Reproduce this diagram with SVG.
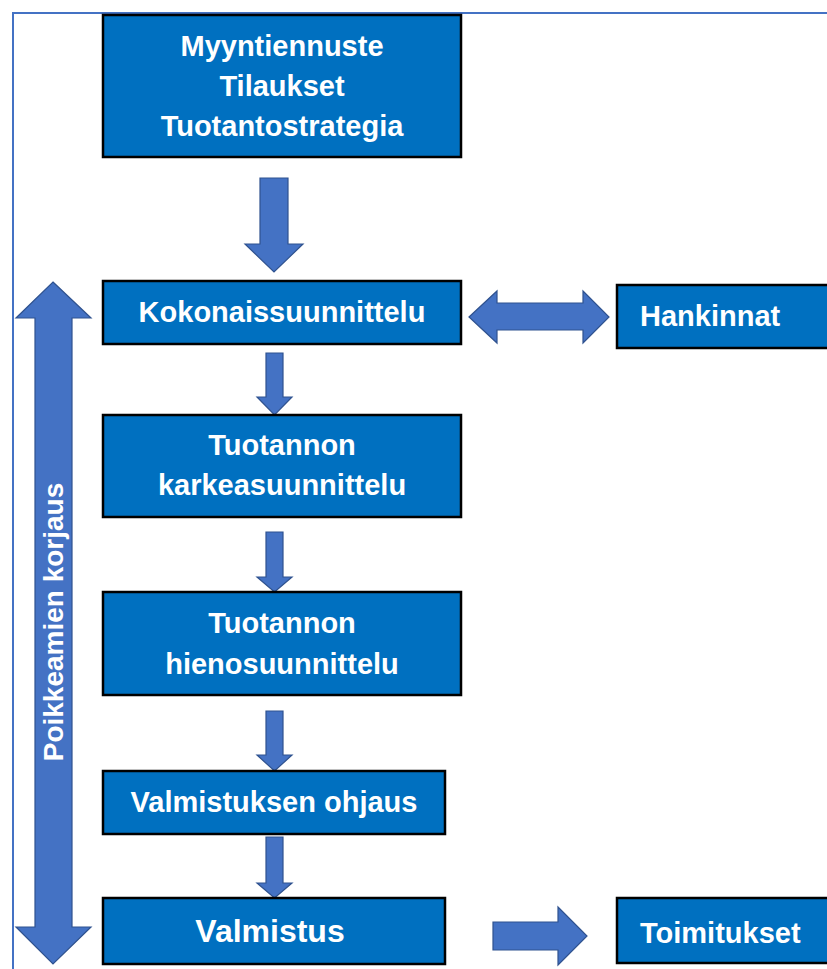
<svg xmlns="http://www.w3.org/2000/svg" width="827" height="969" viewBox="0 0 827 969">
<style>
.box{fill:#0070C0;stroke:#000;stroke-width:2.5}
.arr{fill:#4472C4;stroke:#2F528F;stroke-width:1.2;stroke-linejoin:miter}
.t{font-family:"Liberation Sans",Arial,sans-serif;font-weight:bold;font-size:29px;fill:#fff}
.c{text-anchor:middle}
.frame{fill:none;stroke:#4472C4;stroke-width:2}
</style>
<rect width="827" height="969" fill="#fff"/>
<path class="frame" d="M13,969 V13 H827"/>
<g id="connectors">
<polygon class="arr" points="260,178 288,178 288,244 303,244 274,272 245,244 260,244"/>
<polygon class="arr" points="266,353 283,353 283,397 292,397 274.5,415 257,397 266,397"/>
<polygon class="arr" points="266,532 283,532 283,577 292,577 274.5,592 257,577 266,577"/>
<polygon class="arr" points="266,711 283,711 283,755 292,755 274.5,771 257,755 266,755"/>
<polygon class="arr" points="266,837 283,837 283,883 292,883 274.5,898 257,883 266,883"/>
<polygon class="arr" points="469,317 497,291 497,303 583,303 583,291 609,317 583,343 583,330 497,330 497,343"/>
<polygon class="arr" points="493,922 558,922 558,907 587,936 558,965 558,950 493,950"/>
<g id="poikkeamien">
<polygon class="arr" points="53,282 91,318 72,318 72,927 91,927 53,964 16,927 35,927 35,318 16,318"/>
<text class="t c" transform="translate(63,622) rotate(-90)" style="font-size:28px">Poikkeamien korjaus</text>
</g>
</g>
<g id="n1">
<rect class="box" x="103" y="15" width="358" height="142"/>
<text class="t c" x="282" y="56">Myyntiennuste</text>
<text class="t c" x="282" y="96">Tilaukset</text>
<text class="t c" x="282" y="136">Tuotantostrategia</text>
</g>
<g id="n2">
<rect class="box" x="103" y="281" width="358" height="63"/>
<text class="t c" x="282" y="322">Kokonaissuunnittelu</text>
</g>
<g id="n3">
<rect class="box" x="617" y="285" width="215" height="63"/>
<text class="t" x="640" y="326">Hankinnat</text>
</g>
<g id="n4">
<rect class="box" x="103" y="415" width="358" height="102"/>
<text class="t c" x="282" y="455">Tuotannon</text>
<text class="t c" x="282" y="495">karkeasuunnittelu</text>
</g>
<g id="n5">
<rect class="box" x="103" y="592" width="358" height="103"/>
<text class="t c" x="282" y="633">Tuotannon</text>
<text class="t c" x="282" y="674">hienosuunnittelu</text>
</g>
<g id="n6">
<rect class="box" x="103" y="771" width="342" height="63"/>
<text class="t c" x="274" y="812">Valmistuksen ohjaus</text>
</g>
<g id="n7">
<rect class="box" x="103" y="898" width="342" height="66"/>
<text class="t c" x="270" y="942" style="font-size:32px">Valmistus</text>
</g>
<g id="n8">
<rect class="box" x="617" y="898" width="215" height="65"/>
<text class="t" x="640" y="943">Toimitukset</text>
</g>
</svg>
